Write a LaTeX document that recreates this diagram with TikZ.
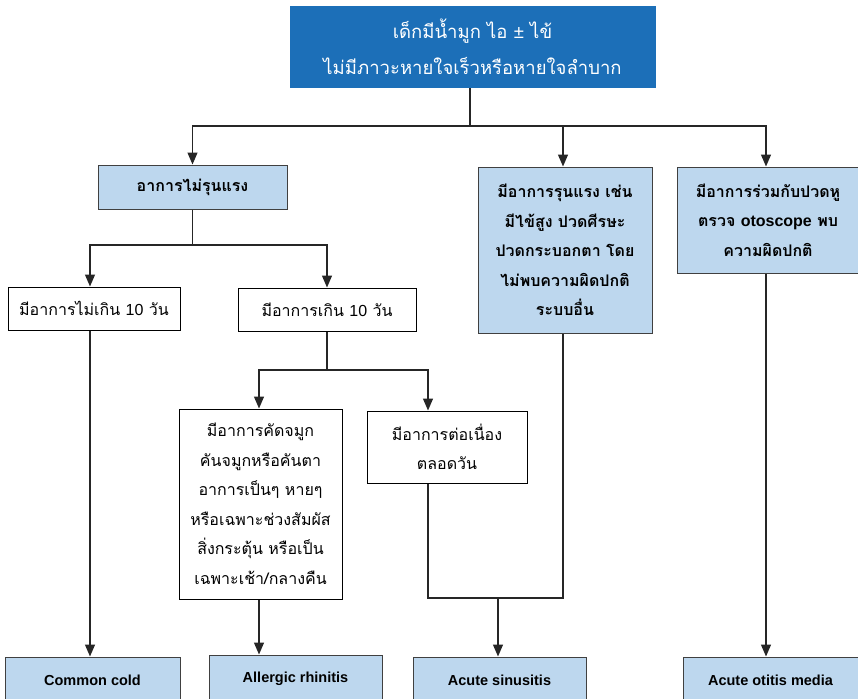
\documentclass[tikz,border=0pt]{standalone}
\usepackage{fontspec}
\setmainfont[Script=Thai]{Loma}
\newfontfamily\lat{Liberation Sans}
\usetikzlibrary{arrows.meta}

\definecolor{topblue}{HTML}{1C6FB8}
\definecolor{lblue}{HTML}{BDD7EE}
\definecolor{bord}{HTML}{404040}
\definecolor{linec}{HTML}{262626}

\tikzset{
  box/.style={rectangle, inner sep=0pt, align=center, line width=1pt},
  bluebox/.style={box, fill=lblue, draw=bord},
  whitebox/.style={box, fill=white, draw=black},
  headbox/.style={box, fill=topblue, draw=topblue, text=white,
    font=\fontsize{18.5}{36}\selectfont},
  thai/.style={font=\fontsize{16}{29.5}\selectfont},
  thaibold/.style={font=\fontsize{16}{29.5}\selectfont\bfseries},
  eng/.style={font=\lat\bfseries\fontsize{14.5}{17}\selectfont},
  link/.style={draw=linec, line width=1.3pt},
  arr/.style={link, -{Triangle[width=10pt,length=12pt]}}
}

\begin{document}
\begin{tikzpicture}[x=1pt, y=-1pt]
  \useasboundingbox (0,0) rectangle (858,698);
  \clip (0,0) rectangle (858,698);

  % top question
  \node[headbox, minimum width=365pt, minimum height=81pt] (top) at (472.5,47.5)
    {\raisebox{2pt}{เด็กมีน้ำมูก ไอ {\lat ±} ไข้}\\\raisebox{2pt}{ไม่มีภาวะหายใจเร็วหรือหายใจลำบาก}};

  % first level
  \node[bluebox, thaibold, minimum width=189pt, minimum height=44pt] (mild) at (192.5,187)
    {อาการไม่รุนแรง};
  \node[bluebox, thaibold, minimum width=174pt, minimum height=166pt] (severe) at (565,250)
    {มีอาการรุนแรง เช่น\\มีไข้สูง ปวดศีรษะ\\ปวดกระบอกตา โดย\\ไม่พบความผิดปกติ\\ระบบอื่น};
  \node[bluebox, thaibold, minimum width=182pt, minimum height=106pt] (otitis) at (768,220)
    {มีอาการร่วมกับปวดหู\\ตรวจ {\lat\bfseries otoscope} พบ\\ความผิดปกติ};

  % duration
  \node[whitebox, thai, minimum width=172pt, minimum height=43pt] (lt10) at (94,308.5)
    {มีอาการไม่เกิน {\lat 10} วัน};
  \node[whitebox, thai, minimum width=178pt, minimum height=43pt] (gt10) at (327,309.5)
    {มีอาการเกิน {\lat 10} วัน};

  % pattern of symptoms
  \node[whitebox, thai, minimum width=163pt, minimum height=190pt] (allergy) at (260.5,504)
    {มีอาการคัดจมูก\\คันจมูกหรือคันตา\\อาการเป็นๆ หายๆ\\หรือเฉพาะช่วงสัมผัส\\สิ่งกระตุ้น หรือเป็น\\เฉพาะเช้า/กลางคืน};
  \node[whitebox, thai, minimum width=160pt, minimum height=72pt] (cont) at (447,447)
    {มีอาการต่อเนื่อง\\ตลอดวัน};

  % diagnoses
  \node[bluebox, eng, minimum width=175pt, minimum height=46pt] (cold) at (92.5,680) {Common cold};
  \node[bluebox, eng, minimum width=173pt, minimum height=48pt] (rhin) at (295.5,679) {Allergic rhinitis};
  \node[bluebox, eng, minimum width=173pt, minimum height=46pt] (sinus) at (499.5,680) {Acute sinusitis};
  \node[bluebox, eng, minimum width=175pt, minimum height=46pt] (aom) at (770.5,680) {Acute otitis media};

  % junction points
  \coordinate (j1) at (470,126);
  \coordinate (j2) at (192.5,245);
  \coordinate (j3) at (327,370);
  \coordinate (cx) at (428,0);
  \coordinate (j4) at (498,598);

  % connectors
  \draw[link] (j1 |- top.south) -- (j1);
  \draw[arr] (j1) -| (mild.north);
  \draw[arr] (j1) -| ([xshift=-2pt]severe.north);
  \draw[arr] (j1) -| ([xshift=-2pt]otitis.north);

  \draw[link] (mild.south) -- (j2);
  \draw[arr] (j2) -| ([xshift=-4pt]lt10.north);
  \draw[arr] (j2) -| (gt10.north);

  \draw[link] (gt10.south) -- (j3);
  \draw[arr] (j3) -| ([xshift=-1.5pt]allergy.north);
  \draw[arr] (j3) -| (cx |- cont.north);

  \draw[arr] ([xshift=-4pt]lt10.south) -- ([xshift=-4pt]lt10.south |- cold.north);
  \draw[arr] ([xshift=-1.5pt]allergy.south) -- ([xshift=-1.5pt]allergy.south |- rhin.north);
  \draw[link] (cx |- cont.south) |- ([xshift=-2pt]severe.south |- j4) -- ([xshift=-2pt]severe.south);
  \draw[arr] (j4) -- (j4 |- sinus.north);
  \draw[arr] ([xshift=-2pt]otitis.south) -- ([xshift=-2pt]otitis.south |- aom.north);
\end{tikzpicture}
\end{document}
